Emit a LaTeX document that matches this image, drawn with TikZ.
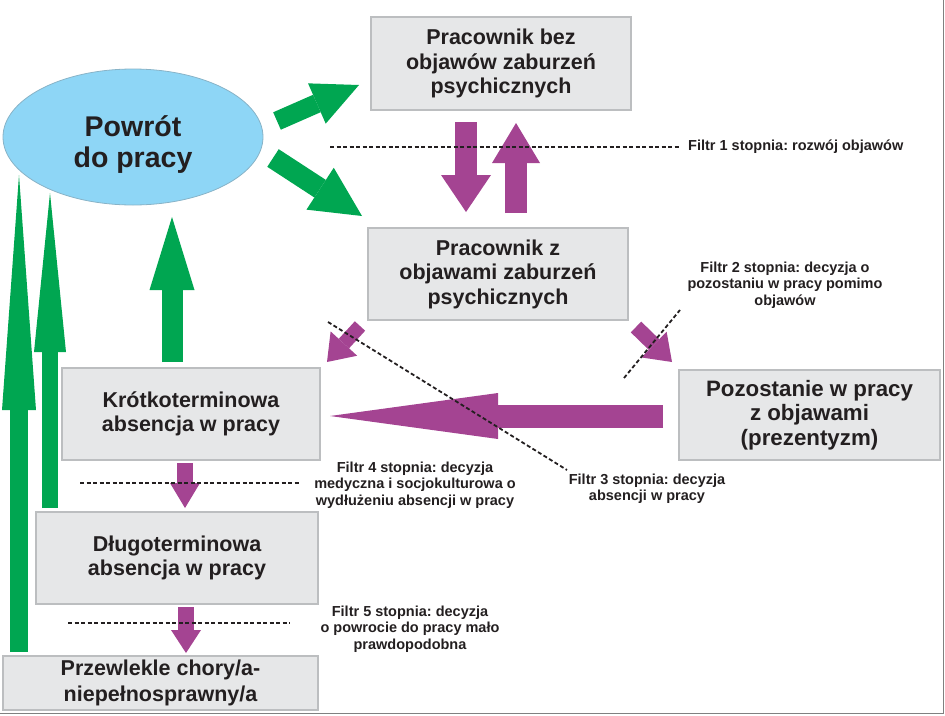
\documentclass[tikz,border=0pt]{standalone}
\usepackage{fontspec}
\setmainfont{Liberation Sans}
\usetikzlibrary{arrows.meta,shapes.geometric}
\definecolor{zielony}{RGB}{0,166,81}
\definecolor{fiolet}{RGB}{164,68,146}
\definecolor{blekit}{RGB}{142,214,246}
\definecolor{szary}{RGB}{230,231,232}
\definecolor{ramka}{RGB}{188,190,192}
\definecolor{tekst}{RGB}{35,31,32}
\frenchspacing

\begin{document}
\begin{tikzpicture}[x=1pt,y=-1pt,
	box/.style={draw=ramka,fill=szary,line width=1.2pt,align=center,inner sep=0pt,text=tekst,font=\bfseries\fontsize{21.5}{24.5}\selectfont},
	opis/.style={align=center,text=tekst,inner sep=2pt,font=\bfseries\fontsize{14.5}{16.3}\selectfont},
	filtr/.style={draw=tekst,line width=1.8pt,dash pattern=on 4pt off 2.5pt},
	garrow/.style args={#1/#2/#3}{draw=zielony,line width=#1,-{Triangle[width=#2,length=#3,line width=0pt]}},
	marrow/.style args={#1/#2/#3}{draw=fiolet,line width=#1,-{Triangle[width=#2,length=#3,line width=0pt]}}]
\useasboundingbox (0,0) rectangle (945,715);

\node[ellipse,draw=blekit!60!gray,fill=blekit,line width=0.8pt,minimum width=260pt,minimum height=136pt,inner sep=0pt] (powrot) at (133,137) {};
\node[align=center,text=tekst,font=\bfseries\fontsize{28.5}{31}\selectfont] (powrotTxt) at ([yshift=-8pt]powrot.center) {Powrót\\do pracy};

\node[box,minimum width=260pt,minimum height=93pt] (bez) at (501,63.5) {Pracownik bez\\objawów zaburzeń\\psychicznych};
\node[box,minimum width=260pt,minimum height=92pt] (zobj) at (498,274) {Pracownik z\\objawami zaburzeń\\psychicznych};
\node[box,minimum width=258pt,minimum height=92pt] (krotko) at (191,414) {Krótkoterminowa\\absencja w pracy};
\node[box,minimum width=282pt,minimum height=92pt] (dlugo) at (177,558) {Długoterminowa\\absencja w pracy};
\node[box,minimum width=315pt,minimum height=54pt] (przewl) at (160.5,683) {Przewlekle chory/a-\\[1pt]niepełnosprawny/a};
\node[box,minimum width=261pt,minimum height=90pt,font=\bfseries\fontsize{22.3}{24.5}\selectfont] (prezent) at (809.5,415) {Pozostanie w pracy\\z objawami\\(prezentyzm)};

% zielone strzalki
\coordinate (g1a) at (172,362);
\coordinate (g1b) at (172,217);
\coordinate (g2a) at (19,652);
\coordinate (g2b) at (19,175);
\coordinate (g3a) at (50,508);
\coordinate (g3b) at (50,193);
\coordinate (g4a) at (277,121);
\coordinate (g4b) at (359,85);
\coordinate (g5a) at (273,158);
\coordinate (g5b) at (362,216);
\draw[garrow=21pt/45pt/73pt] (g1a) -- (g1b);
\draw[garrow=18pt/34pt/235pt] (g2a) -- (g2b);
\draw[garrow=16pt/32pt/159pt] (g3a) -- (g3b);
\draw[garrow=19pt/44pt/46pt] (g4a) -- (g4b);
\draw[garrow=21pt/50pt/50pt] (g5a) -- (g5b);

% fioletowe strzalki
\coordinate (m1a) at (466,122);
\coordinate (m1b) at (466,212);
\coordinate (m2a) at (516,213);
\coordinate (m2b) at (516,123);
\coordinate (m3a) at (360,326);
\coordinate (m3b) at (327,362);
\coordinate (m4a) at (636,327);
\coordinate (m4b) at (672,362);
\coordinate (m5a) at (663,416);
\coordinate (m5b) at (330,416);
\coordinate (m6a) at (185,463);
\coordinate (m6b) at (185,508);
\coordinate (m7a) at (186,607);
\coordinate (m7b) at (186,653);
\draw[marrow=22pt/50pt/37pt] (m1a) -- (m1b);
\draw[marrow=22pt/48pt/40pt] (m2a) -- (m2b);
\draw[marrow=14pt/36pt/25pt] (m3a) -- (m3b);
\draw[marrow=15pt/36pt/25pt] (m4a) -- (m4b);
\draw[marrow=23pt/46pt/168pt] (m5a) -- (m5b);
\draw[marrow=16pt/30pt/25pt] (m6a) -- (m6b);
\draw[marrow=16pt/30pt/23pt] (m7a) -- (m7b);

% filtry
\node[opis,anchor=west] (t1) at (686,147) {Filtr 1 stopnia: rozwój objawów};
\node[opis] (t2) at (785,285) {Filtr 2 stopnia: decyzja o\\pozostaniu w pracy pomimo\\objawów};
\node[opis] (t3) at (647,489) {Filtr 3 stopnia: decyzja\\absencji w pracy};
\node[opis] (t4) at (415,485) {Filtr 4 stopnia: decyzja\\medyczna i socjokulturowa o\\wydłużeniu absencji w pracy};
\node[opis] (t5) at (410,629) {Filtr 5 stopnia: decyzja\\o powrocie do pracy mało\\prawdopodobna};
\coordinate (f1) at (330,147);
\coordinate (f2a) at (624,378);
\coordinate (f2b) at (680,310);
\coordinate (f3a) at (328,322);
\coordinate (f3b) at (567,470);
\coordinate (f4a) at (80,483);
\coordinate (f4b) at (300,483);
\coordinate (f5a) at (68,623);
\coordinate (f5b) at (290,623);
\draw[filtr] (f1) -- ([xshift=-6pt]t1.west);
\draw[filtr] (f2a) -- (f2b);
\draw[filtr] (f3a) -- (f3b);
\draw[filtr] (f4a) -- (f4b);
\draw[filtr] (f5a) -- (f5b);

\draw[gray,line width=1.5pt] (943.5,0) -- (943.5,713.5) -- (0,713.5);
\end{tikzpicture}
\end{document}
